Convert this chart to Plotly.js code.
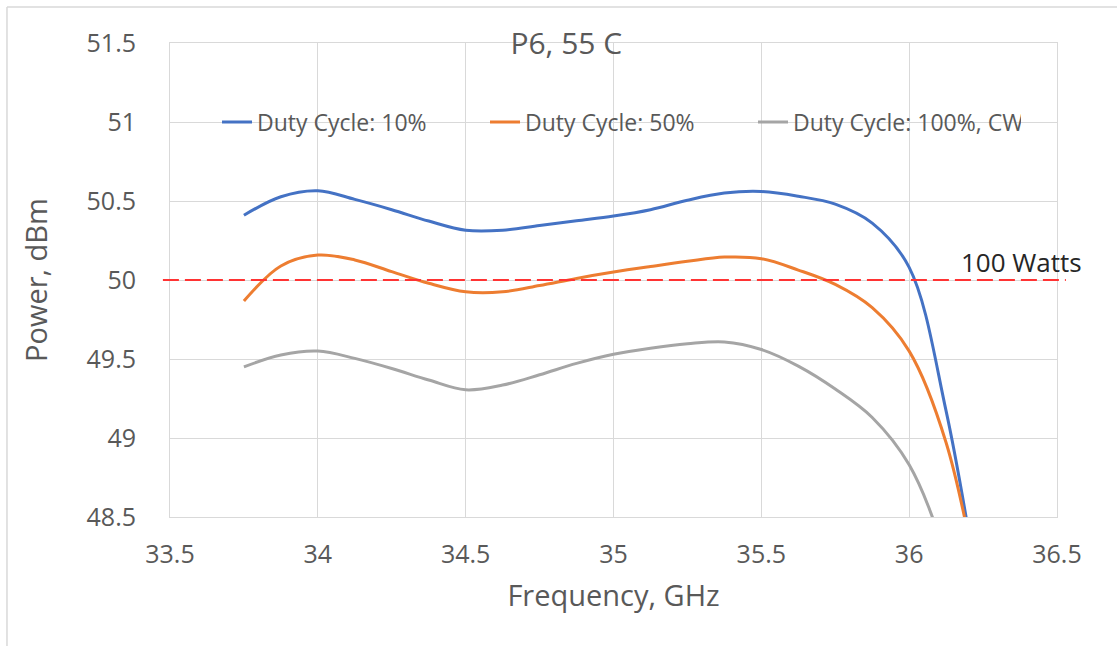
<!DOCTYPE html>
<html>
<head>
<meta charset="utf-8">
<script src="https://cdn.plot.ly/plotly-3.0.1.min.js"></script>
<style>
  html, body { margin: 0; padding: 0; background: #ffffff; }
  #chart { width: 1117px; height: 646px; }
</style>
</head>
<body>
<div id="chart"></div>
<script>
// Frequency points (GHz)
const freqGHz = [33.75, 33.875, 34, 34.125, 34.25, 34.375, 34.5, 34.625, 34.75, 34.875, 35,
                 35.125, 35.25, 35.375, 35.5, 35.625, 35.75, 35.875, 36, 36.125, 36.25];
// Output power (dBm) for each duty cycle
const duty10  = [50.41, 50.527, 50.565, 50.51, 50.445, 50.373, 50.315, 50.315, 50.345, 50.375, 50.405,
                 50.445, 50.505, 50.55, 50.56, 50.53, 50.48, 50.36, 50.08, 49.17, 47.85];
const duty50  = [49.867, 50.089, 50.158, 50.127, 50.053, 49.979, 49.925, 49.925, 49.965, 50.01, 50.05,
                 50.085, 50.118, 50.145, 50.135, 50.063, 49.972, 49.825, 49.55, 48.97, 47.9];
const duty100 = [49.45, 49.525, 49.55, 49.504, 49.44, 49.367, 49.305, 49.335, 49.40, 49.472, 49.53,
                 49.568, 49.596, 49.608, 49.56, 49.455, 49.31, 49.13, 48.83, 48.25, 47.4];
const seriesNames = ["Duty Cycle: 10%", "Duty Cycle: 50%", "Duty Cycle: 100%, CW"];
const seriesColors = ["#4472C4", "#ED7D31", "#A5A5A5"];
const thresholdDbm = 50;
const thresholdLabel = "100 Watts";
const xTicks = [33.5, 34, 34.5, 35, 35.5, 36, 36.5];
const yTicks = [48.5, 49, 49.5, 50, 50.5, 51, 51.5];

const FONT = "'Open Sans', 'Noto Sans', sans-serif";
const series = [duty10, duty50, duty100];

const traces = series.map((vals, i) => ({
  type: "scatter",
  mode: "lines",
  x: freqGHz,
  y: vals,
  name: seriesNames[i],
  line: { color: seriesColors[i], width: 3, shape: "spline", smoothing: 1 },
  hoverinfo: "x+y+name"
}));

const layout = {
  width: 1117,
  height: 646,
  paper_bgcolor: "#ffffff",
  plot_bgcolor: "#ffffff",
  margin: { l: 170, r: 60, t: 43, b: 129, autoexpand: false },
  showlegend: true,
  title: {
    text: "P6, 55 C",
    font: { family: FONT, size: 30, color: "#595959" },
    xref: "container", x: 0.507, xanchor: "center",
    yref: "container", y: 0.933, yanchor: "middle"
  },
  legend: {
    orientation: "h",
    x: 0.053, xanchor: "left", xref: "paper",
    y: (51 - 48.5) / 3, yanchor: "middle", yref: "paper",
    bgcolor: "rgba(0,0,0,0)",
    borderwidth: 0,
    font: { family: FONT, size: 23, color: "#595959" },
    entrywidth: 223,
    entrywidthmode: "pixels",
    itemclick: false, itemdoubleclick: false
  },
  xaxis: {
    range: [33.5, 36.5],
    tickvals: xTicks,
    ticktext: xTicks.map(String),
    showgrid: true, gridcolor: "#d9d9d9", gridwidth: 1,
    showline: true, linecolor: "#d9d9d9", linewidth: 1, mirror: true,
    zeroline: false,
    ticks: "",
    ticklabelstandoff: 15,
    tickfont: { family: FONT, size: 25, color: "#595959" },
    automargin: false,
    title: { text: "Frequency, GHz", font: { family: FONT, size: 29, color: "#595959" }, standoff: 16 }
  },
  yaxis: {
    range: [48.5, 51.5],
    tickvals: yTicks,
    ticktext: yTicks.map(String),
    showgrid: true, gridcolor: "#d9d9d9", gridwidth: 1,
    showline: true, linecolor: "#d9d9d9", linewidth: 1, mirror: true,
    zeroline: false,
    ticks: "",
    ticklabelstandoff: 28,
    tickfont: { family: FONT, size: 25, color: "#595959" },
    automargin: false,
    title: { text: "Power, dBm", font: { family: FONT, size: 29, color: "#595959" }, standoff: 30 }
  },
  shapes: [
    {
      type: "line", xref: "paper", yref: "y",
      x0: -0.008, x1: 1.010, y0: thresholdDbm, y1: thresholdDbm,
      line: { color: "#ff3333", width: 2, dash: "16px,6px" },
      layer: "above"
    },
    {
      type: "line", xref: "paper", yref: "paper",
      x0: -0.1838, x1: -0.1838, y0: -0.30, y1: 1.076,
      line: { color: "#d9d9d9", width: 1.5 }
    },
    {
      type: "line", xref: "paper", yref: "paper",
      x0: -0.1838, x1: 1.10, y0: 1.076, y1: 1.076,
      line: { color: "#d9d9d9", width: 1.5 }
    }
  ],
  annotations: [
    {
      text: thresholdLabel,
      xref: "paper", x: 1.03, xanchor: "right",
      yref: "y", y: thresholdDbm, yanchor: "bottom",
      yshift: -2,
      showarrow: false,
      font: { family: FONT, size: 26, color: "#262626" }
    }
  ]
};

Plotly.newPlot("chart", traces, layout, { displayModeBar: false, staticPlot: false });
</script>
</body>
</html>
